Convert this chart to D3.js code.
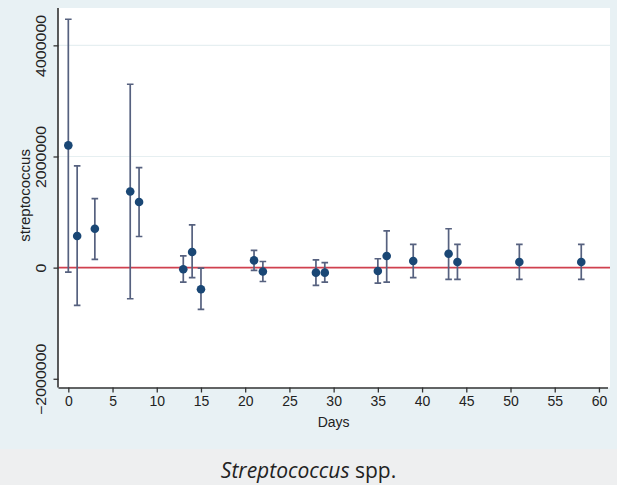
<!DOCTYPE html>
<html>
<head>
<meta charset="utf-8">
<script src="https://cdn.jsdelivr.net/npm/d3@7/dist/d3.min.js"></script>
<style>
  html, body { margin: 0; padding: 0; background: #eeeff0; }
  svg { display: block; }
</style>
</head>
<body>
<script>
// Sampling days, mean counts and 95% confidence limits
const days  = [0, 1, 3, 7, 8, 13, 14, 15, 21, 22, 28, 29, 35, 36, 39, 43, 44, 51, 58];
const means = [2200000, 570000, 700000, 1370000, 1180000, -30000, 280000, -390000, 130000, -70000,
               -90000, -90000, -60000, 210000, 120000, 250000, 100000, 100000, 100000];
const lower = [-80000, -680000, 150000, -560000, 560000, -260000, -180000, -750000, -50000, -250000,
               -320000, -260000, -280000, -260000, -180000, -210000, -210000, -210000, -210000];
const upper = [4470000, 1830000, 1240000, 3300000, 1800000, 210000, 770000, -10000, 310000, 110000,
               140000, 90000, 160000, 660000, 420000, 700000, 420000, 420000, 420000];

const xTicks = [0, 5, 10, 15, 20, 25, 30, 35, 40, 45, 50, 55, 60];
const yTicks = [-2000000, 0, 2000000, 4000000];
const yGrid  = [2000000, 4000000];

const W = 617, H = 485;
const plot = { left: 58.5, right: 610, top: 8, bottom: 387.5 };

const svg = d3.select("body").append("svg").attr("width", W).attr("height", H);

// backgrounds
svg.append("rect").attr("width", W).attr("height", 449).attr("fill", "#e8f1f4");
svg.append("rect").attr("y", 449).attr("width", W).attr("height", H - 449).attr("fill", "#eeeff0");
svg.append("rect")
  .attr("x", plot.left).attr("y", plot.top)
  .attr("width", plot.right - plot.left).attr("height", plot.bottom - plot.top)
  .attr("fill", "#ffffff");

const x = d3.scaleLinear().domain([-1.11, 61.25]).range([plot.left, plot.right]);
const y = d3.scaleLinear().domain([-2157000, 4672000]).range([plot.bottom, plot.top]);

// horizontal grid
svg.append("g").selectAll("line").data(yGrid).join("line")
  .attr("x1", plot.left).attr("x2", plot.right)
  .attr("y1", d => y(d)).attr("y2", d => y(d))
  .attr("stroke", "#e6eff1").attr("stroke-width", 1.2);

// reference line at zero
svg.append("line")
  .attr("x1", plot.left).attr("x2", plot.right)
  .attr("y1", y(0)).attr("y2", y(0))
  .attr("stroke", "#d0404f").attr("stroke-width", 1.6);

// confidence intervals
const rows = days.map((d, i) => ({ day: d, m: means[i], lo: lower[i], hi: upper[i] }));
const ci = svg.append("g").attr("stroke", "#56617f").attr("stroke-width", 1.7).attr("fill", "none");
ci.selectAll("path").data(rows).join("path")
  .attr("d", r => {
    const cx = x(r.day), cap = 3.3;
    return `M${cx},${y(r.hi)}V${y(r.lo)}` +
           `M${cx - cap},${y(r.hi)}H${cx + cap}` +
           `M${cx - cap},${y(r.lo)}H${cx + cap}`;
  });

// means
svg.append("g").selectAll("circle").data(rows).join("circle")
  .attr("cx", r => x(r.day)).attr("cy", r => y(r.m)).attr("r", 4.3)
  .attr("fill", "#1a4775");

// axes
const font = "'Liberation Sans', Arial, sans-serif";
const xAxis = svg.append("g").attr("transform", `translate(0,${plot.bottom})`)
  .call(d3.axisBottom(x).tickValues(xTicks).tickSize(5).tickPadding(4).tickFormat(d3.format("d")));
xAxis.select(".domain").attr("d", `M${plot.left},0.5H${plot.right - 2}`).attr("stroke", "#333").attr("stroke-width", 1.6);
xAxis.selectAll(".tick line").attr("stroke", "#333").attr("stroke-width", 1.3);
xAxis.selectAll("text").attr("font-family", font).attr("font-size", 14).attr("fill", "#222");

const yAxis = svg.append("g").attr("transform", `translate(${plot.left},0)`)
  .call(d3.axisLeft(y).tickValues(yTicks).tickSize(5).tickFormat(d3.format("d")));
yAxis.select(".domain").attr("d", `M-0.5,${plot.top}V${plot.bottom}`).attr("stroke", "#333").attr("stroke-width", 1.6);
yAxis.selectAll(".tick line").attr("stroke", "#333").attr("stroke-width", 1.3);
yAxis.selectAll("text")
  .attr("font-family", font).attr("font-size", 14).attr("fill", "#222")
  .attr("x", null).attr("dy", null)
  .attr("text-anchor", "middle")
  .attr("transform", "translate(-13,0) rotate(-90) scale(1.14,1)");

// axis titles
svg.append("text")
  .attr("x", x(30)).attr("y", 427)
  .attr("text-anchor", "middle")
  .attr("font-family", font).attr("font-size", 14).attr("fill", "#222")
  .text("Days");

svg.append("text")
  .attr("transform", `translate(30,${y(1300000)}) rotate(-90)`)
  .attr("text-anchor", "middle")
  .attr("font-family", font).attr("font-size", 15).attr("fill", "#222")
  .text("streptococcus");

// caption
const cap = svg.append("text")
  .attr("x", W / 2).attr("y", 478)
  .attr("text-anchor", "middle")
  .attr("font-family", "'Open Sans', 'Noto Sans', sans-serif").attr("font-size", 21).attr("fill", "#222");
cap.append("tspan").attr("font-style", "italic").text("Streptococcus");
cap.append("tspan").text(" spp.");
</script>
</body>
</html>
